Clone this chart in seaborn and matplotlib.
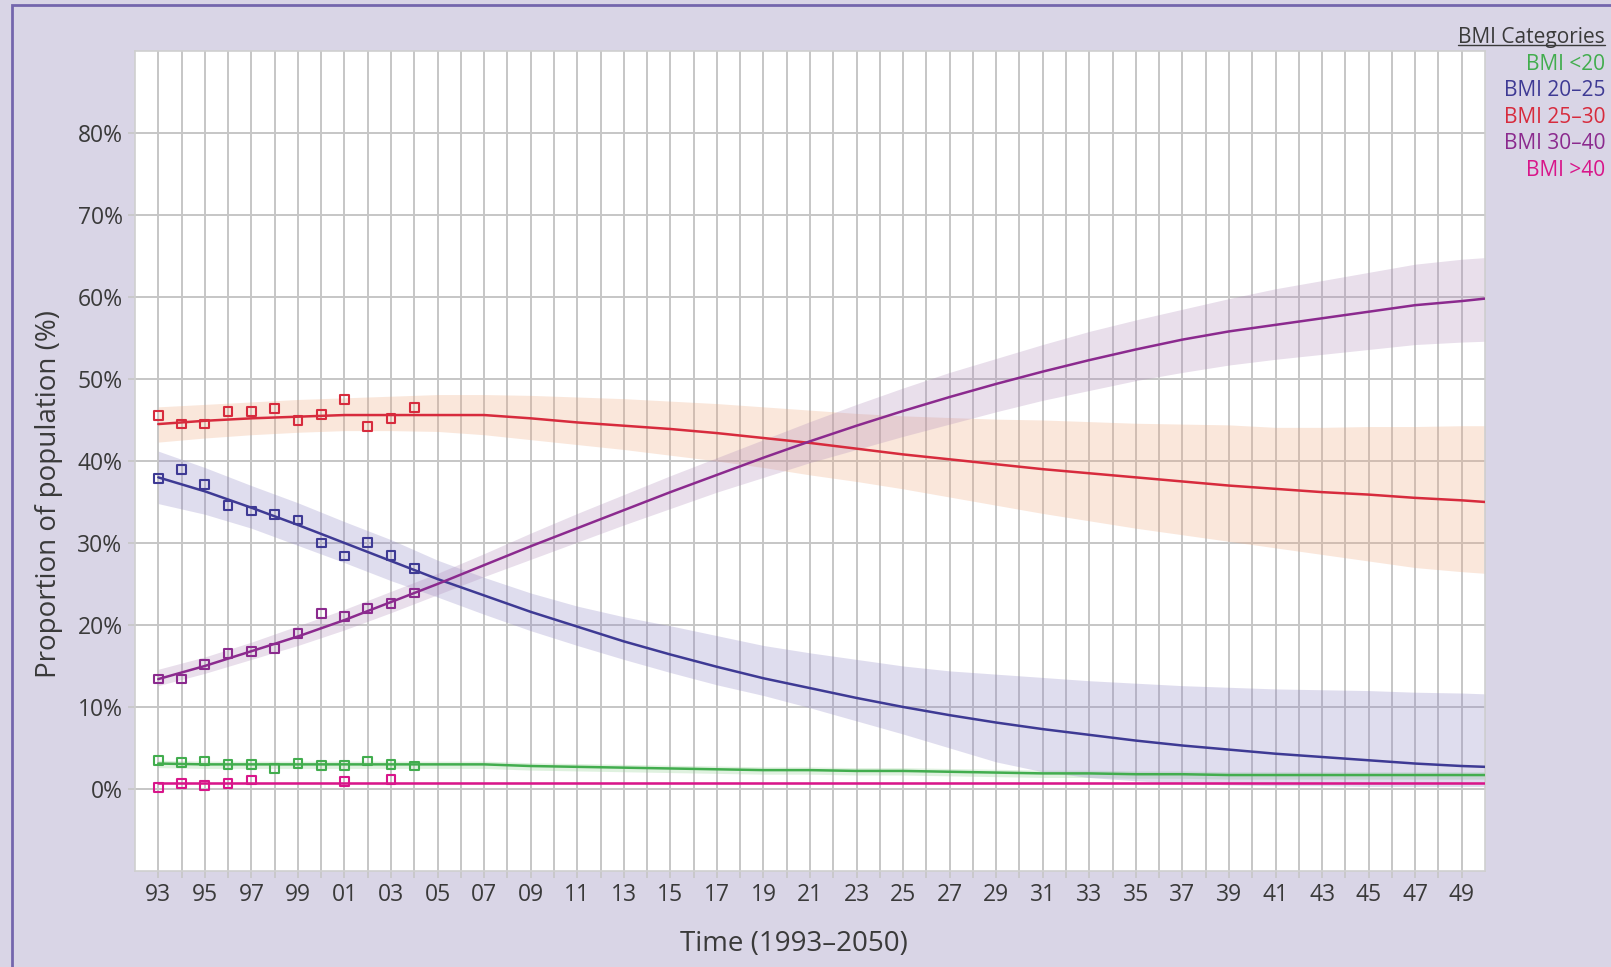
import numpy as np
import pandas as pd
import matplotlib
matplotlib.use("Agg")
import matplotlib.pyplot as plt
import seaborn as sns
from matplotlib.lines import Line2D
from matplotlib.patches import Rectangle
from matplotlib.ticker import FixedLocator, FuncFormatter

# categories and colours
categories = ["BMI <20", "BMI 20–25", "BMI 25–30", "BMI 30–40", "BMI >40"]
line_colors = ["#42ad4e", "#3e3a94", "#d72b3d", "#8b2a8e", "#d8168a"]
band_colors = ["#8fd08f", "#8f86c4", "#eeaa80", "#b08cba", "#f08cc0"]

# observed survey points (1993-2004)
obs_years = list(range(1993, 2005))
obs_lt20 = [3.5, 3.2, 3.4, 3.0, 3.0, 2.5, 3.1, 2.9, 2.9, 3.4, 3.0, 2.8]
obs_20_25 = [37.9, 39.0, 37.1, 34.6, 33.9, 33.5, 32.8, 30.0, 28.4, 30.1, 28.5, 26.9]
obs_25_30 = [45.5, 44.5, 44.5, 46.0, 46.0, 46.4, 44.9, 45.7, 47.5, 44.2, 45.2, 46.5]
obs_30_40 = [13.4, 13.4, 15.2, 16.5, 16.8, 17.1, 19.0, 21.4, 21.0, 22.0, 22.6, 23.9]
obs_gt40_years = [1993, 1994, 1995, 1996, 1997, 2001, 2003]
obs_gt40 = [0.2, 0.7, 0.4, 0.7, 1.1, 0.9, 1.2]

# projections (1993-2050) with uncertainty bands
proj_years = [1993, 1995, 1997, 1999, 2001, 2003, 2005, 2007, 2009, 2011,
              2013, 2015, 2017, 2019, 2021, 2023, 2025, 2027, 2029, 2031,
              2033, 2035, 2037, 2039, 2041, 2043, 2045, 2047, 2049, 2050]

proj_lt20 = [3.1, 3.0, 3.0, 3.0, 3.0, 3.0, 3.0, 3.0, 2.8, 2.7, 2.6, 2.5, 2.4, 2.3, 2.3,
             2.2, 2.2, 2.1, 2.0, 1.9, 1.9, 1.8, 1.8, 1.7, 1.7, 1.7, 1.7, 1.7, 1.7, 1.7]
proj_lt20_lo = [2.6, 2.5, 2.5, 2.5, 2.5, 2.5, 2.5, 2.5, 2.3, 2.2, 2.1, 2.0, 1.9, 1.8, 1.8,
                1.7, 1.7, 1.6, 1.5, 1.4, 1.4, 1.3, 1.3, 1.2, 1.2, 1.2, 1.2, 1.2, 1.2, 1.2]
proj_lt20_hi = [3.5, 3.4, 3.4, 3.4, 3.4, 3.4, 3.4, 3.4, 3.2, 3.1, 3.0, 2.9, 2.8, 2.7, 2.7,
                2.6, 2.6, 2.5, 2.4, 2.3, 2.3, 2.2, 2.2, 2.1, 2.1, 2.1, 2.1, 2.1, 2.1, 2.1]

proj_20_25 = [38.0, 36.3, 34.3, 32.2, 30.0, 27.8, 25.6, 23.6, 21.6, 19.8, 18.0, 16.4, 14.9, 13.5, 12.3,
              11.1, 10.0, 9.0, 8.1, 7.3, 6.6, 5.9, 5.3, 4.8, 4.3, 3.9, 3.5, 3.1, 2.8, 2.7]
proj_20_25_lo = [34.8, 33.5, 31.8, 29.7, 27.6, 25.4, 23.4, 21.3, 19.3, 17.5, 15.8, 14.2, 12.7, 11.4, 9.9,
                 8.3, 6.7, 5.0, 3.3, 2.1, 1.4, 1.0, 0.7, 0.5, 0.4, 0.4, 0.3, 0.3, 0.3, 0.3]
proj_20_25_hi = [41.2, 39.2, 37.0, 34.9, 32.6, 30.4, 27.9, 25.8, 23.9, 22.3, 21.0, 19.9, 18.7, 17.5, 16.6,
                 15.8, 15.0, 14.4, 14.0, 13.6, 13.2, 12.9, 12.6, 12.4, 12.2, 12.1, 12.0, 11.8, 11.7, 11.6]

proj_25_30 = [44.5, 44.9, 45.2, 45.4, 45.6, 45.6, 45.6, 45.6, 45.2, 44.7, 44.3, 43.9, 43.4, 42.8, 42.2,
              41.5, 40.8, 40.2, 39.6, 39.0, 38.5, 38.0, 37.5, 37.0, 36.6, 36.2, 35.9, 35.5, 35.2, 35.0]
proj_25_30_lo = [42.3, 42.8, 43.2, 43.5, 43.7, 43.7, 43.6, 43.2, 42.6, 42.0, 41.4, 40.7, 40.0, 39.2, 38.3,
                 37.5, 36.6, 35.6, 34.6, 33.6, 32.7, 31.8, 31.0, 30.2, 29.4, 28.6, 27.8, 27.0, 26.5, 26.3]
proj_25_30_hi = [46.6, 46.9, 47.2, 47.5, 47.7, 47.9, 48.1, 48.1, 48.0, 47.8, 47.6, 47.3, 47.0, 46.6, 46.2,
                 45.8, 45.5, 45.3, 45.1, 45.0, 44.8, 44.6, 44.5, 44.4, 44.1, 44.1, 44.2, 44.2, 44.3, 44.3]

proj_30_40 = [13.4, 15.0, 16.8, 18.6, 20.6, 22.8, 25.0, 27.3, 29.6, 31.8, 34.0, 36.2, 38.3, 40.4, 42.4,
              44.3, 46.1, 47.8, 49.4, 50.9, 52.3, 53.6, 54.8, 55.8, 56.6, 57.4, 58.2, 59.0, 59.5, 59.8]
proj_30_40_lo = [12.6, 14.1, 15.8, 17.5, 19.4, 21.5, 23.7, 25.9, 28.0, 30.1, 32.2, 34.2, 36.2, 38.0, 39.8,
                 41.4, 43.0, 44.5, 46.0, 47.4, 48.6, 49.8, 50.8, 51.7, 52.4, 53.0, 53.6, 54.2, 54.5, 54.6]
proj_30_40_hi = [14.6, 16.1, 17.9, 19.9, 21.9, 24.1, 26.3, 28.7, 31.2, 33.6, 35.9, 38.2, 40.4, 42.6, 44.8,
                 46.9, 48.9, 50.8, 52.5, 54.2, 55.8, 57.2, 58.5, 59.8, 61.0, 62.0, 63.0, 64.0, 64.6, 64.8]

proj_gt40 = [0.7] * 30
proj_gt40_lo = [0.5] * 30
proj_gt40_hi = [0.9] * 30

year_ticks = list(range(1993, 2050, 2))

obs = pd.concat([
    pd.DataFrame({"year": obs_years, "value": obs_lt20, "category": categories[0]}),
    pd.DataFrame({"year": obs_years, "value": obs_20_25, "category": categories[1]}),
    pd.DataFrame({"year": obs_years, "value": obs_25_30, "category": categories[2]}),
    pd.DataFrame({"year": obs_years, "value": obs_30_40, "category": categories[3]}),
    pd.DataFrame({"year": obs_gt40_years, "value": obs_gt40, "category": categories[4]}),
])
proj_vals = [proj_lt20, proj_20_25, proj_25_30, proj_30_40, proj_gt40]
proj_lo = [proj_lt20_lo, proj_20_25_lo, proj_25_30_lo, proj_30_40_lo, proj_gt40_lo]
proj_hi = [proj_lt20_hi, proj_20_25_hi, proj_25_30_hi, proj_30_40_hi, proj_gt40_hi]
proj = pd.concat([
    pd.DataFrame({"year": proj_years, "value": v, "lo": lo, "hi": hi, "category": c})
    for c, v, lo, hi in zip(categories, proj_vals, proj_lo, proj_hi)
])

sns.set_theme(style="white")
plt.rcParams["font.family"] = ["Open Sans", "DejaVu Sans"]

bg = "#d9d5e6"
text_col = "#3a3a3a"
palette = dict(zip(categories, line_colors))

fig = plt.figure(figsize=(16.11, 9.67), dpi=100, facecolor=bg)
ax = fig.add_axes([0.0838, 0.0993, 0.838, 0.848])
ax.set_facecolor("white")

# uncertainty bands
for c, bc in zip(categories, band_colors):
    d = proj[proj["category"] == c]
    ax.fill_between(d["year"], d["lo"], d["hi"], color=bc, alpha=0.28, linewidth=0, zorder=1)

sns.lineplot(data=proj, x="year", y="value", hue="category", palette=palette,
             linewidth=1.8, legend=False, ax=ax, zorder=3)
sns.scatterplot(data=obs, x="year", y="value", hue="category", palette=palette,
                marker="s", s=40, linewidth=1.5, legend=False, ax=ax, zorder=4)
for coll in ax.collections:
    if coll.get_offsets().shape[0] == len(obs):
        coll.set_edgecolors(coll.get_facecolors())
        coll.set_facecolors("none")

ax.set_xlim(1992, 2050)
ax.set_ylim(-10, 90)
ax.xaxis.set_major_locator(FixedLocator(year_ticks))
ax.xaxis.set_minor_locator(FixedLocator(list(range(1993, 2050))))
ax.xaxis.set_major_formatter(FuncFormatter(lambda v, p: f"{int(v) % 100:02d}"))
ax.yaxis.set_major_locator(FixedLocator(list(range(0, 81, 10))))
ax.yaxis.set_major_formatter(FuncFormatter(lambda v, p: f"{int(v)}%"))
ax.grid(which="both", color="#c6c6c6", linewidth=1.4, zorder=0)
ax.set_axisbelow(True)
ax.tick_params(which="both", length=5, width=1.2, color="#c6c6c6",
               labelsize=16.5, labelcolor=text_col, pad=4)
ax.tick_params(which="minor", bottom=True)
ax.tick_params(axis="x", bottom=True)
ax.tick_params(axis="y", left=True)
for s in ax.spines.values():
    s.set_color("#cfcfcf")
    s.set_linewidth(1.2)

ax.set_xlabel("Time (1993–2050)", fontsize=20, color=text_col)
ax.set_ylabel("Proportion of population (%)", fontsize=20, color=text_col)
ax.xaxis.set_label_coords(0.488, -0.0725)
ax.yaxis.set_label_coords(-0.053, 0.46)

# legend as right-aligned coloured text
title = fig.text(0.9963, 0.9617, "BMI Categories", ha="right", va="center",
                 fontsize=15, color=text_col)
ys = [0.9338, 0.9069, 0.879, 0.8511, 0.8232]
for c, col, y in zip(categories, line_colors, ys):
    fig.text(0.9963, y, c, ha="right", va="center", fontsize=15, color=col)

fig.canvas.draw()
bb = title.get_window_extent().transformed(fig.transFigure.inverted())
fig.add_artist(Line2D([bb.x0, bb.x1], [bb.y0 + 0.003, bb.y0 + 0.003],
                      transform=fig.transFigure, color=text_col, linewidth=1.0))

# outer frame
fig.add_artist(Rectangle((12 / 1611, -0.05), 1.1, 1.05 - 5 / 967,
                         transform=fig.transFigure, fill=False,
                         edgecolor="#7466ad", linewidth=2))

fig.savefig("out.png", dpi=100, facecolor=bg)
